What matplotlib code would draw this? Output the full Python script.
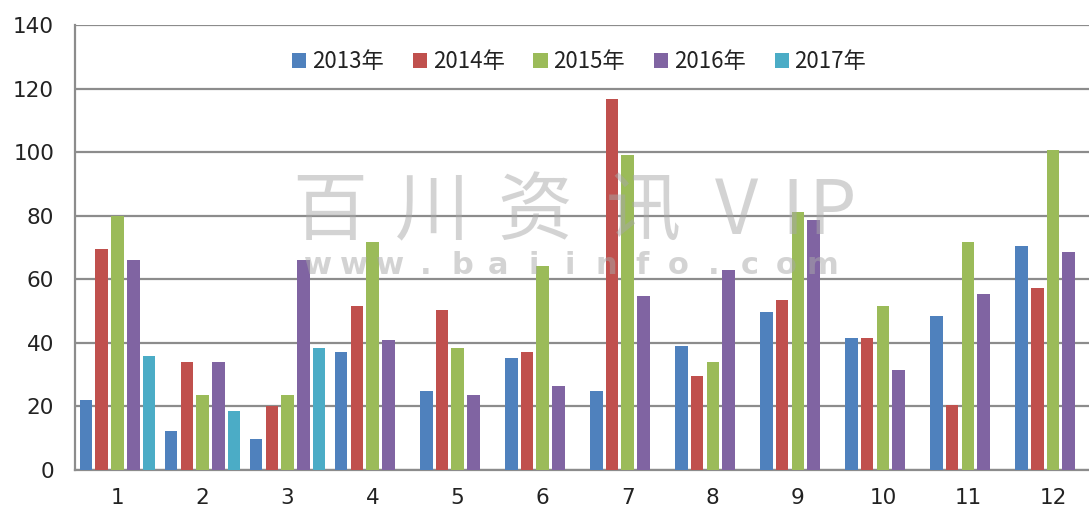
import matplotlib
matplotlib.use("Agg")
import matplotlib.pyplot as plt
from matplotlib.patches import Patch
import numpy as np

months = ["1", "2", "3", "4", "5", "6", "7", "8", "9", "10", "11", "12"]
series_names = ["2013年", "2014年", "2015年", "2016年", "2017年"]
v2013 = [22, 12.3, 9.8, 37.2, 25, 35.2, 25, 38.9, 49.7, 41.5, 48.4, 70.5]
v2014 = [69.5, 33.9, 20, 51.6, 50.3, 37, 116.8, 29.5, 53.5, 41.5, 20.6, 57.3]
v2015 = [80, 23.7, 23.7, 71.8, 38.3, 64.2, 99.2, 33.9, 81.3, 51.6, 71.8, 100.8]
v2016 = [66.1, 34, 66, 40.8, 23.7, 26.3, 54.7, 62.9, 78.7, 31.4, 55.4, 68.6]
v2017 = [35.8, 18.7, 38.3, None, None, None, None, None, None, None, None, None]
yticks = [0, 20, 40, 60, 80, 100, 120, 140]

colors = ["#4F81BD", "#C0504D", "#9BBB59", "#8064A2", "#4BACC6"]
plt.rcParams['font.family'] = ['DejaVu Sans']

W, H = 1089, 514
fig = plt.figure(figsize=(W / 100, H / 100), dpi=100)
ax = fig.add_axes([75 / W, 44 / H, 1020.5 / W, 445 / H])

x = np.arange(1, len(months) + 1)
pitch = 0.185
bw = 0.148
all_series = [v2013, v2014, v2015, v2016, v2017]
for i, (vals, c) in enumerate(zip(all_series, colors)):
    xs = [xi + (i - 2) * pitch for xi, v in zip(x, vals) if v is not None]
    ys = [v for v in vals if v is not None]
    ax.bar(xs, ys, width=bw, color=c, zorder=3, linewidth=0)

ax.set_xlim(0.5, 12.5)
ax.set_ylim(0, 140)
ax.set_yticks(yticks)
ax.set_xticks(x)
ax.set_xticklabels(months)
ax.yaxis.grid(True, color="#8c8c8c", linewidth=1.6, zorder=0)
ax.set_axisbelow(True)
for s in ["top", "right"]:
    ax.spines[s].set_visible(False)
for s in ["left", "bottom"]:
    ax.spines[s].set_color("#8c8c8c")
    ax.spines[s].set_linewidth(1.6)
ax.tick_params(axis="both", length=0, labelsize=15.5, colors="#222222")
ax.tick_params(axis="y", pad=15)
ax.tick_params(axis="x", pad=13)

handles = [Patch(facecolor=c, edgecolor="none") for c in colors]
leg = ax.legend(handles, series_names, loc="center", bbox_to_anchor=(0.494, 0.917),
                ncol=5, frameon=False, handlelength=0.65, handleheight=0.65,
                handletextpad=0.25, columnspacing=1.3,
                prop={"family": ["Noto Sans CJK SC", "DejaVu Sans"], "size": 16})
for t in leg.get_texts():
    t.set_color("#222222")

# watermark
wm_chars = ["百", "川", "资", "讯", "V", "I", "P"]
wm_x = [330, 432, 535, 643, 736, 792, 832]
for ch, px in zip(wm_chars, wm_x):
    fig.text(px / W, 1 - 212 / H, ch, ha="center", va="center", fontsize=54,
             family=["Noto Sans CJK SC", "DejaVu Sans"], fontweight="normal",
             color="#a8a8a8", alpha=0.5, zorder=10)
wm2 = list("www.baiinfo.com")
for j, ch in enumerate(wm2):
    fig.text((318 + j * 36) / W, 1 - 266 / H, ch, ha="center", va="center",
             fontsize=22, fontweight="bold", color="#a8a8a8", alpha=0.5, zorder=10)

fig.savefig("out.png", dpi=100)
